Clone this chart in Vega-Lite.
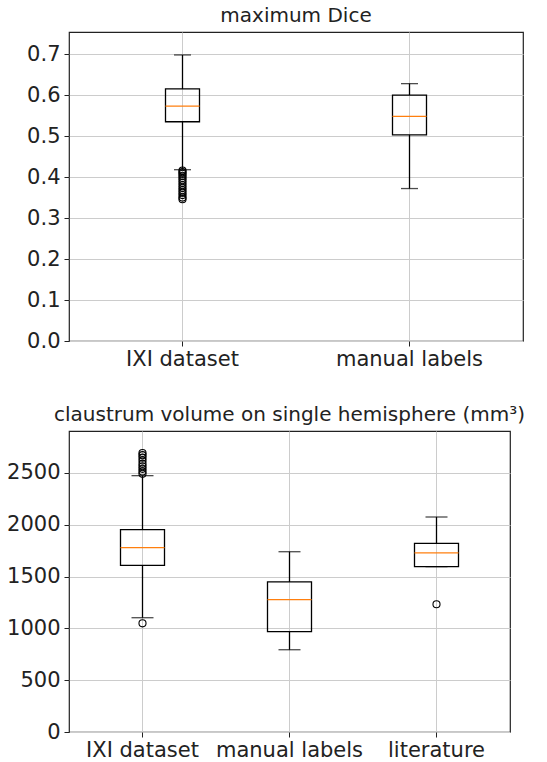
{
  "$schema": "https://vega.github.io/schema/vega-lite/v6.json",
  "padding": {"left": 5, "top": 5, "right": 5, "bottom": 0},
  "spacing": 34,
  "config": {
    "font": "DejaVu Sans",
    "view": {"stroke": "#222222", "strokeWidth": 1.2},
    "axis": {
      "domain": false,
      "grid": true,
      "gridColor": "#cccccc",
      "gridWidth": 1,
      "tickColor": "#222222",
      "tickSize": 5,
      "tickWidth": 1,
      "labelFont": "DejaVu Sans",
      "labelFontSize": 21,
      "labelColor": "#222222",
      "labelPadding": 4,
      "title": null
    },
    "axisX": {"labelPadding": 2},
    "title": {"font": "DejaVu Sans", "fontSize": 20, "fontWeight": "normal", "color": "#222222", "anchor": "middle", "offset": 6}
  },
  "datasets": {
    "dice": [
      {"group": "IXI dataset", "lower": 0.418, "q1": 0.535, "median": 0.573, "q3": 0.615, "upper": 0.698},
      {"group": "manual labels", "lower": 0.372, "q1": 0.503, "median": 0.548, "q3": 0.600, "upper": 0.628}
    ],
    "diceOut": [
      {"group": "IXI dataset", "value": 0.346},
      {"group": "IXI dataset", "value": 0.350},
      {"group": "IXI dataset", "value": 0.356},
      {"group": "IXI dataset", "value": 0.362},
      {"group": "IXI dataset", "value": 0.368},
      {"group": "IXI dataset", "value": 0.374},
      {"group": "IXI dataset", "value": 0.380},
      {"group": "IXI dataset", "value": 0.386},
      {"group": "IXI dataset", "value": 0.392},
      {"group": "IXI dataset", "value": 0.398},
      {"group": "IXI dataset", "value": 0.403},
      {"group": "IXI dataset", "value": 0.408},
      {"group": "IXI dataset", "value": 0.412},
      {"group": "IXI dataset", "value": 0.416}
    ],
    "vol": [
      {"group": "IXI dataset", "lower": 1103, "q1": 1609, "median": 1779, "q3": 1953, "upper": 2474},
      {"group": "manual labels", "lower": 794, "q1": 968, "median": 1277, "q3": 1448, "upper": 1740},
      {"group": "literature", "lower": 1596, "q1": 1596, "median": 1728, "q3": 1821, "upper": 2075}
    ],
    "volOut": [
      {"group": "IXI dataset", "value": 1049},
      {"group": "IXI dataset", "value": 2492},
      {"group": "IXI dataset", "value": 2515},
      {"group": "IXI dataset", "value": 2540},
      {"group": "IXI dataset", "value": 2565},
      {"group": "IXI dataset", "value": 2590},
      {"group": "IXI dataset", "value": 2620},
      {"group": "IXI dataset", "value": 2648},
      {"group": "IXI dataset", "value": 2672},
      {"group": "IXI dataset", "value": 2693},
      {"group": "literature", "value": 1233}
    ]
  },
  "vconcat": [
    {
      "title": "maximum Dice",
      "width": 454,
      "height": 309,
      "encoding": {
        "x": {"field": "group", "type": "nominal", "sort": ["IXI dataset", "manual labels"],
              "scale": {"domain": ["IXI dataset", "manual labels"], "paddingInner": 0, "paddingOuter": 0},
              "axis": {"labelAngle": 0, "bandPosition": 0.5}}
      },
      "layer": [
        {"data": {"name": "dice"}, "mark": {"type": "rule", "color": "black", "strokeWidth": 1.3},
         "encoding": {"y": {"field": "lower", "type": "quantitative", "scale": {"domain": [0, 0.754], "nice": false},
                            "axis": {"values": [0, 0.1, 0.2, 0.3, 0.4, 0.5, 0.6, 0.7], "format": ".1f"}},
                      "y2": {"field": "q1"}}},
        {"data": {"name": "dice"}, "mark": {"type": "rule", "color": "black", "strokeWidth": 1.3},
         "encoding": {"y": {"field": "q3", "type": "quantitative"}, "y2": {"field": "upper"}}},
        {"data": {"name": "dice"}, "mark": {"type": "tick", "color": "black", "thickness": 1.3, "size": 17},
         "encoding": {"y": {"field": "lower", "type": "quantitative"}}},
        {"data": {"name": "dice"}, "mark": {"type": "tick", "color": "black", "thickness": 1.3, "size": 17},
         "encoding": {"y": {"field": "upper", "type": "quantitative"}}},
        {"data": {"name": "dice"}, "mark": {"type": "bar", "fill": "transparent", "stroke": "black", "strokeWidth": 1.3, "size": 34},
         "encoding": {"y": {"field": "q1", "type": "quantitative"}, "y2": {"field": "q3"}}},
        {"data": {"name": "dice"}, "mark": {"type": "tick", "color": "#ff7f0e", "thickness": 1.3, "size": 34, "opacity": 1},
         "encoding": {"y": {"field": "median", "type": "quantitative"}}},
        {"data": {"name": "diceOut"}, "mark": {"type": "point", "shape": "circle", "filled": false, "color": "black", "strokeWidth": 1.1, "size": 50, "opacity": 1},
         "encoding": {"y": {"field": "value", "type": "quantitative"}}}
      ]
    },
    {
      "title": "claustrum volume on single hemisphere (mm³)",
      "width": 441,
      "height": 301,
      "encoding": {
        "x": {"field": "group", "type": "nominal", "sort": ["IXI dataset", "manual labels", "literature"],
              "scale": {"domain": ["IXI dataset", "manual labels", "literature"], "paddingInner": 0, "paddingOuter": 0},
              "axis": {"labelAngle": 0, "bandPosition": 0.5}}
      },
      "layer": [
        {"data": {"name": "vol"}, "mark": {"type": "rule", "color": "black", "strokeWidth": 1.3},
         "encoding": {"y": {"field": "lower", "type": "quantitative", "scale": {"domain": [0, 2905], "nice": false},
                            "axis": {"values": [0, 500, 1000, 1500, 2000, 2500], "format": "d"}},
                      "y2": {"field": "q1"}}},
        {"data": {"name": "vol"}, "mark": {"type": "rule", "color": "black", "strokeWidth": 1.3},
         "encoding": {"y": {"field": "q3", "type": "quantitative"}, "y2": {"field": "upper"}}},
        {"data": {"name": "vol"}, "mark": {"type": "tick", "color": "black", "thickness": 1.3, "size": 22},
         "encoding": {"y": {"field": "lower", "type": "quantitative"}}},
        {"data": {"name": "vol"}, "mark": {"type": "tick", "color": "black", "thickness": 1.3, "size": 22},
         "encoding": {"y": {"field": "upper", "type": "quantitative"}}},
        {"data": {"name": "vol"}, "mark": {"type": "bar", "fill": "transparent", "stroke": "black", "strokeWidth": 1.3, "size": 44},
         "encoding": {"y": {"field": "q1", "type": "quantitative"}, "y2": {"field": "q3"}}},
        {"data": {"name": "vol"}, "mark": {"type": "tick", "color": "#ff7f0e", "thickness": 1.3, "size": 44, "opacity": 1},
         "encoding": {"y": {"field": "median", "type": "quantitative"}}},
        {"data": {"name": "volOut"}, "mark": {"type": "point", "shape": "circle", "filled": false, "color": "black", "strokeWidth": 1.1, "size": 50, "opacity": 1},
         "encoding": {"y": {"field": "value", "type": "quantitative"}}}
      ]
    }
  ]
}
